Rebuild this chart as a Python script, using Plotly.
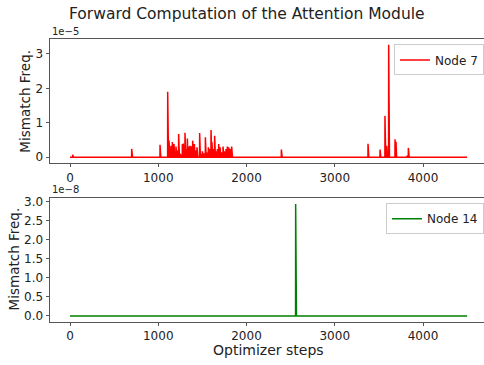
import numpy as np
import plotly.graph_objects as go

n_steps = 4500
steps = np.arange(0, n_steps + 1)

# Node 7 spikes (step, value in units of 1e-5)
node7_steps = [30, 699, 1020, 1107, 1122, 1144, 1160, 1178, 1201, 1216, 1231, 1250, 1273, 1284,
               1303, 1318, 1330, 1345, 1360, 1375, 1390, 1409, 1424, 1439, 1469, 1484, 1500,
               1515, 1534, 1549, 1568, 1583, 1598, 1609, 1624, 1639, 1654, 1670, 1685, 1700,
               1719, 1734, 1749, 1768, 1783, 1798, 1813, 1832, 2395, 3377, 3513, 3569, 3588,
               3611, 3619, 3683, 3694, 3820, 3834]
node7_vals = [0.07, 0.24, 0.36, 1.90, 0.48, 0.33, 0.44, 0.38, 0.31, 0.19, 0.67, 0.10, 0.38, 0.40,
              0.71, 0.24, 0.54, 0.31, 0.33, 0.32, 0.48, 0.38, 0.19, 0.29, 0.70, 0.10, 0.17,
              0.11, 0.58, 0.14, 0.29, 0.24, 0.79, 0.43, 0.24, 0.62, 0.17, 0.24, 0.38, 0.29,
              0.14, 0.31, 0.17, 0.24, 0.31, 0.29, 0.24, 0.31, 0.22, 0.39, 0.22, 1.20, 0.33,
              3.27, 0.40, 0.52, 0.45, 0.05, 0.27]

# Node 14 spikes (step, value in units of 1e-8)
node14_steps = [2557]
node14_vals = [2.95]

y7 = np.zeros(len(steps))
y7[node7_steps] = np.array(node7_vals) * 1e-5
y14 = np.zeros(len(steps))
y14[node14_steps] = np.array(node14_vals) * 1e-8

W, H = 484, 365
FONT = "DejaVu Sans"

def fx(px):
    return px / W

def fy(py):
    return 1 - py / H

fig = go.Figure()
fig.add_trace(go.Scatter(x=steps, y=y7, mode="lines", name="Node 7",
                         line=dict(color="red", width=1.5), xaxis="x", yaxis="y",
                         legend="legend"))
fig.add_trace(go.Scatter(x=steps, y=y14, mode="lines", name="Node 14",
                         line=dict(color="green", width=1.5), xaxis="x2", yaxis="y2",
                         legend="legend2"))

# x pixel mapping: step 0 at x=70, 1000 steps = 88.25 px; axis from x=50 to 484
x_left = (50 - 70) / 0.08825
x_right = (W - 70) / 0.08825

axis_common = dict(showgrid=False, zeroline=False, showline=True, linecolor="#555",
                   linewidth=1, ticks="outside", ticklen=3.5, tickcolor="#555",
                   tickfont=dict(family=FONT, size=12, color="#222"))

x_ticks = [0, 1000, 2000, 3000, 4000]

fig.update_layout(
    width=W, height=H,
    margin=dict(l=0, r=0, t=0, b=0),
    paper_bgcolor="white", plot_bgcolor="white",
    showlegend=True,
    xaxis=dict(domain=[fx(50), 1], range=[x_left, x_right], anchor="y", mirror=True,
               tickvals=x_ticks, ticktext=[str(t) for t in x_ticks], **axis_common),
    yaxis=dict(domain=[fy(162), fy(37)], range=[-0.163e-5, 3.42e-5], anchor="x",
               tickvals=[0, 1e-5, 2e-5, 3e-5], ticktext=["0", "1", "2", "3"], **axis_common),
    xaxis2=dict(domain=[fx(50), 1], range=[x_left, x_right], anchor="y2", mirror=True,
                tickvals=x_ticks, ticktext=[str(t) for t in x_ticks], **axis_common),
    yaxis2=dict(domain=[fy(323), fy(198)], range=[-0.1475e-8, 3.0975e-8], anchor="x2",
                tickvals=[0, 0.5e-8, 1e-8, 1.5e-8, 2e-8, 2.5e-8, 3e-8],
                ticktext=["0.0", "0.5", "1.0", "1.5", "2.0", "2.5", "3.0"], **axis_common),
    legend=dict(x=fx(484), y=fy(42), xanchor="right", yanchor="top",
                bgcolor="rgba(255,255,255,0.8)", bordercolor="#ccc", borderwidth=1,
                itemwidth=30, tracegroupgap=0,
                font=dict(family=FONT, size=12, color="#222")),
    legend2=dict(x=fx(484), y=fy(203), xanchor="right", yanchor="top",
                 bgcolor="rgba(255,255,255,0.8)", bordercolor="#ccc", borderwidth=1,
                 itemwidth=30, tracegroupgap=0,
                 font=dict(family=FONT, size=12, color="#222")),
)

annotations = [
    dict(text="Forward Computation of the Attention Module", x=fx(247), y=fy(11),
         xref="paper", yref="paper", showarrow=False, xanchor="center", yanchor="middle",
         font=dict(family=FONT, size=15.5, color="#222")),
    dict(text="1e\u22125", x=fx(50), y=fy(36), xref="paper", yref="paper", showarrow=False,
         xanchor="left", yanchor="bottom", font=dict(family=FONT, size=10, color="#222")),
    dict(text="1e\u22128", x=fx(50), y=fy(197), xref="paper", yref="paper", showarrow=False,
         xanchor="left", yanchor="bottom", font=dict(family=FONT, size=10, color="#222")),
    dict(text="Mismatch Freq.", x=fx(25), y=fy(100), xref="paper", yref="paper",
         showarrow=False, textangle=-90, xanchor="center", yanchor="middle",
         font=dict(family=FONT, size=13.5, color="#222")),
    dict(text="Mismatch Freq.", x=fx(14), y=fy(260), xref="paper", yref="paper",
         showarrow=False, textangle=-90, xanchor="center", yanchor="middle",
         font=dict(family=FONT, size=13.5, color="#222")),
    dict(text="Optimizer steps", x=fx(268), y=fy(352), xref="paper", yref="paper",
         showarrow=False, xanchor="center", yanchor="middle",
         font=dict(family=FONT, size=14, color="#222")),
]
fig.update_layout(annotations=annotations)

fig.write_html("out.html", config={"displayModeBar": False},
               post_script="document.body.style.margin='0';document.body.style.overflow='hidden';")
